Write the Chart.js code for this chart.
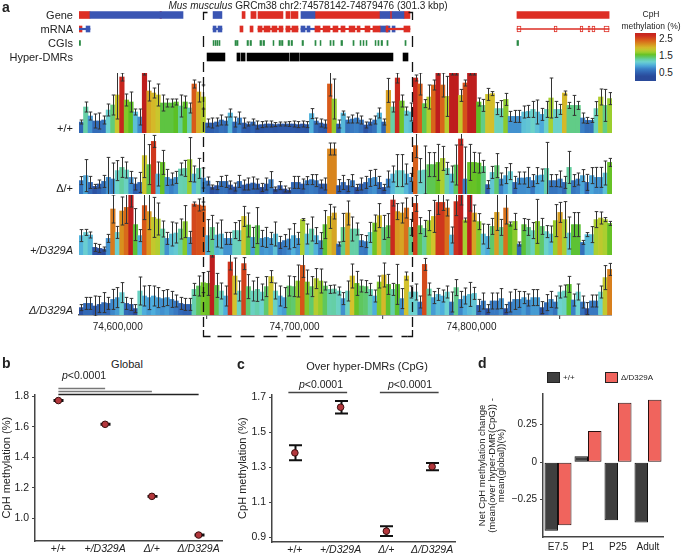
<!DOCTYPE html>
<html>
<head>
<meta charset="utf-8">
<script src="https://cdn.jsdelivr.net/npm/chart.js@4.4.1/dist/chart.umd.min.js"></script>
<style>
body { margin: 0; background: #fff; }
#fig { position: relative; width: 681px; height: 555px; overflow: hidden; font-family: "Liberation Sans", Arial, sans-serif; color: #222; }
#fig canvas { position: absolute; }
.t { position: absolute; white-space: nowrap; font-size: 11px; line-height: 12px; }
.lt { font-weight: bold; font-size: 14px; line-height: 14px; }
.sw { position: absolute; width: 11px; height: 9px; border: 1px solid #222; }
#bracket { position: absolute; left: 0; top: 0; z-index: 5; }
</style>
</head>
<body>
<div id="fig">
  <canvas id="genes" width="612" height="56" style="left:0;top:8px"></canvas>
  <canvas id="tr0" width="612" height="60" style="left:0;top:73px"></canvas>
  <canvas id="tr1" width="612" height="60" style="left:0;top:134px"></canvas>
  <canvas id="tr2" width="612" height="60" style="left:0;top:195px"></canvas>
  <canvas id="tr3" width="612" height="82" style="left:0;top:255px"></canvas>
  <canvas id="chartB" width="232" height="170" style="left:0;top:385px"></canvas>
  <canvas id="chartC" width="232" height="170" style="left:232px;top:385px"></canvas>
  <canvas id="chartD" width="217" height="170" style="left:464px;top:385px"></canvas>
  <svg id="bracket" width="681" height="555"></svg>

  <div class="t lt" style="left:2px;top:0px">a</div>
  <div class="t" style="left:308px;top:0px;font-size:10px;transform:translateX(-50%)"><i>Mus musculus</i> GRCm38 chr2:74578142-74879476 (301.3 kbp)</div>
  <div class="t" style="left:651px;top:8px;font-size:8.5px;transform:translateX(-50%)">CpH</div>
  <div class="t" style="left:651px;top:20px;font-size:8.5px;transform:translateX(-50%)">methylation (%)</div>
  <div id="cbar" style="position:absolute;left:635px;top:33px;width:21px;height:48px"></div>
  <div id="rowLabels"></div>

  <div class="t" style="right:608px;top:122px">+/+</div>
  <div class="t" style="right:608px;top:182px">Δ/+</div>
  <div class="t" style="right:608px;top:244px"><i>+/D329A</i></div>
  <div class="t" style="right:608px;top:304px"><i>Δ/D329A</i></div>

  <div class="t lt" style="left:2px;top:356px">b</div>
  <div class="t" style="left:127px;top:358px;transform:translateX(-50%)">Global</div>
  <div class="t" style="left:62px;top:369px;font-size:10.5px"><i>p</i>&lt;0.0001</div>

  <div class="t lt" style="left:237px;top:357px">c</div>
  <div class="t" style="left:367px;top:360px;transform:translateX(-50%)">Over hyper-DMRs (CpG)</div>
  <div class="t" style="left:321px;top:378px;font-size:10.5px;transform:translateX(-50%)"><i>p</i>&lt;0.0001</div>
  <div class="t" style="left:410px;top:378px;font-size:10.5px;transform:translateX(-50%)"><i>p</i>&lt;0.0001</div>

  <div class="t lt" style="left:478px;top:356px">d</div>
  <div class="sw" style="left:547px;top:372px;background:#3f3f3f"></div>
  <div class="t" style="left:563px;top:372px;font-size:8px">+/+</div>
  <div class="sw" style="left:605px;top:372px;background:#f0645d"></div>
  <div class="t" style="left:621px;top:372px;font-size:8px">Δ/D329A</div>
</div>
<script>
// region shown in panel a
const chrStart = 74578142;
const chrEnd = 74879476;
const axisTicksA = [74600000, 74700000, 74800000];
const dmrBracketKb = [70.1, 188.3];

// CpH methylation (%) per bin, four genotypes, and error half-widths
const methWT = [
  0.55,1.3,0.85,0.6,0.6,0.65,1.15,1.4,1.9,2.8,
  1.65,1.55,1.05,0.8,3.0,2.1,2.0,1.9,1.5,1.5,
  1.5,1.55,1.35,1.55,1.25,2.45,2.05,1.8,0.5,0.5,
  0.55,0.65,0.6,1.0,0.55,0.75,0.5,0.45,0.55,0.4,
  0.42,0.45,0.45,0.42,0.45,0.45,0.45,0.45,0.42,0.45,
  0.42,0.97,0.6,0.5,0.45,2.45,1.7,0.45,1.0,0.65,
  0.7,0.75,0.65,0.4,0.55,0.65,1.0,0.55,2.13,1.3,
  2.75,1.6,1.1,1.05,2.75,2.45,1.47,1.8,2.4,3.0,
  2.4,1.83,3.0,3.0,1.88,2.5,3.0,3.0,1.55,1.38,
  1.93,1.97,1.22,1.22,1.68,0.83,0.83,0.83,1.05,1.08,
  1.18,1.05,0.93,1.18,1.75,1.18,1.18,2.0,1.38,1.38,
  1.38,0.75,0.63,0.63,1.22,1.8,1.38,1.72
];
const errWT = [
  0.1,0.25,0.2,0.35,0.4,0.2,0.3,0.5,1.2,0.2,
  0.3,0.5,0.15,0.4,0.1,0.5,0.25,0.55,0.4,0.2,
  0.2,0.15,0.55,0.3,0.25,0.2,0.5,0.6,0.2,0.25,
  0.2,0.25,0.2,0.2,0.25,0.3,0.25,0.1,0.15,0.2,
  0.15,0.15,0.15,0.1,0.1,0.1,0.12,0.15,0.15,0.15,
  0.15,0.25,0.15,0.2,0.2,0.6,1.0,0.2,0.1,0.15,
  0.2,0.25,0.2,0.15,0.15,0.2,0.25,0.15,0.6,0.25,
  0.25,0.3,0.2,0.45,0.15,0.55,0.2,0.6,0.25,0.1,
  0.6,1.0,0.1,0.1,0.3,0.15,0.1,0.1,0.2,0.3,
  0.3,0.1,0.3,0.4,0.3,0.25,0.3,0.3,0.3,0.3,
  0.4,0.6,0.3,0.4,1.0,0.4,0.25,0.1,0.15,0.5,
  0.2,0.25,0.15,0.1,0.35,0.4,0.8,0.3
];
const methDel = [
  0.67,0.92,0.58,0.38,0.5,0.63,0.83,0.75,1.17,1.33,
  1.2,0.83,0.5,0.58,1.92,1.47,2.63,1.0,1.58,0.83,
  0.75,0.83,1.25,1.28,1.72,1.0,1.28,0.8,0.65,0.35,
  0.42,0.63,0.63,0.45,0.35,0.63,0.45,0.5,0.55,0.5,
  0.33,0.5,0.72,0.25,0.42,0.25,0.2,0.58,0.58,0.5,
  0.67,0.72,0.67,0.5,0.5,2.25,2.25,0.42,0.58,0.42,
  0.67,0.33,0.5,0.58,0.78,0.83,0.58,0.33,0.75,1.0,
  1.17,1.17,1.0,0.83,2.42,1.17,1.2,1.47,1.47,1.58,
  1.78,1.28,1.0,1.45,2.75,0.75,1.58,1.58,1.55,1.38,
  0.47,1.08,1.42,0.75,0.92,1.12,0.58,0.8,0.8,0.83,
  0.67,0.92,0.95,1.28,0.67,0.67,0.75,0.58,1.33,0.67,
  0.75,0.92,0.58,0.92,0.83,0.83,1.05,1.58
];
const errDel = [
  0.2,0.8,0.3,0.1,0.2,0.3,1.0,0.8,0.5,0.5,
  0.4,0.3,0.3,0.5,1.1,1.0,0.3,0.6,0.6,0.4,
  0.3,0.3,0.3,0.4,1.1,0.4,0.5,0.5,0.2,0.1,
  0.2,0.25,0.3,0.2,0.2,0.3,0.25,0.3,0.3,0.25,
  0.2,0.3,0.4,0.1,0.2,0.15,0.1,0.3,0.3,0.25,
  0.2,0.25,0.3,0.2,0.3,0.3,0.3,0.3,0.35,0.3,
  0.3,0.15,0.3,0.3,0.4,0.4,0.3,0.15,0.4,0.4,
  0.8,0.8,0.5,0.2,0.6,0.6,1.2,0.6,0.6,0.9,
  0.6,0.3,0.4,1.0,0.3,1.6,0.9,0.5,0.5,0.3,
  0.2,0.3,0.6,0.3,0.4,0.4,0.3,0.3,0.3,0.5,
  0.3,0.4,0.3,1.3,0.3,0.3,0.4,0.3,0.8,0.3,
  0.3,0.3,0.4,0.4,0.5,0.5,0.6,0.2
];
const methMut = [
  0.97,1.13,1.0,0.38,0.33,0.3,0.83,2.3,1.13,2.2,
  2.38,3.0,1.52,0.97,2.47,2.17,1.88,1.8,1.3,0.83,
  1.05,1.1,1.3,1.67,0.88,2.55,2.5,2.45,0.97,1.38,
  1.0,1.05,0.83,0.83,1.22,1.22,1.93,1.5,0.88,1.47,
  0.83,0.88,0.83,1.05,0.63,0.72,0.8,0.97,0.83,1.77,
  1.05,1.3,0.97,0.72,1.52,1.93,2.1,0.55,1.38,2.1,
  1.3,1.3,0.72,0.67,1.13,1.6,1.97,1.38,1.47,2.75,
  2.17,2.1,2.35,1.38,2.58,1.47,1.33,1.72,1.93,2.63,
  2.63,2.35,1.0,2.67,3.0,1.75,3.0,2.1,1.67,1.05,
  0.93,1.43,2.13,1.38,2.35,1.55,1.68,0.55,1.52,1.38,
  1.22,1.68,1.43,1.17,1.05,1.72,2.13,1.77,1.1,1.52,
  1.52,0.63,1.02,1.02,1.77,1.85,1.77,1.58
];
const errMut = [
  0.3,0.15,0.15,0.2,0.2,0.1,0.2,0.7,0.3,0.7,
  0.8,0.6,0.8,0.3,0.7,0.9,1.0,0.8,0.4,0.3,
  0.6,0.5,0.5,0.8,0.3,0.1,0.3,0.2,0.8,0.6,
  0.6,0.7,0.3,0.3,0.4,0.5,0.5,0.6,0.5,0.9,
  0.4,0.5,0.3,0.6,0.3,0.3,0.5,0.6,0.3,0.05,
  0.5,0.6,0.4,0.4,0.7,0.6,0.3,0.1,0.7,0.6,
  0.6,0.3,0.3,0.3,0.5,0.4,0.6,0.6,0.6,0.3,
  0.4,0.5,0.5,0.4,0.4,0.4,0.4,0.5,0.8,0.6,
  0.4,0.4,0.4,0.7,0.5,0.1,0.8,0.4,0.4,0.5,
  0.6,0.4,0.9,0.4,0.8,0.1,0.4,0.1,0.3,0.4,
  0.4,1.1,0.4,0.3,0.4,0.8,0.5,0.9,0.8,0.6,
  0.6,0.1,0.1,0.4,0.4,0.3,0.1,0.1
];
const methDelMut = [
  0.37,0.58,0.58,0.45,0.53,0.62,0.58,0.78,0.87,1.12,
  0.58,0.53,0.32,1.2,0.95,0.87,0.95,0.87,0.82,0.87,
  0.78,0.7,0.58,0.53,0.53,1.28,1.45,1.62,1.58,3.0,
  1.48,1.2,0.95,2.65,1.95,1.2,2.57,1.42,1.2,1.28,
  1.15,1.42,1.92,1.2,0.95,0.87,1.45,1.42,1.7,2.48,
  1.65,1.42,1.82,1.7,1.45,1.28,1.3,1.2,0.82,1.2,
  1.95,1.58,1.45,1.42,1.28,0.95,1.65,2.0,1.53,1.28,
  1.53,0.82,1.95,1.15,1.15,0.65,2.53,1.3,0.87,1.03,
  0.95,1.15,0.65,1.37,0.78,0.95,1.03,1.08,0.48,0.7,
  0.32,0.7,0.7,0.82,0.32,0.65,0.78,0.78,0.87,0.75,
  0.87,0.87,0.37,0.62,0.78,0.65,1.15,1.2,1.53,0.75,
  1.15,0.65,0.32,0.7,0.7,1.15,1.87,2.28
];
const errDelMut = [
  0.15,0.3,0.3,0.5,0.4,0.5,0.3,0.5,0.5,0.5,
  0.3,0.3,0.2,0.7,0.5,0.6,0.5,0.5,0.4,0.4,
  0.4,0.3,0.3,0.3,0.3,0.3,0.5,0.5,0.6,0.1,
  0.6,0.4,0.5,0.4,0.9,0.5,0.3,0.6,0.5,0.6,
  0.4,0.5,0.3,0.4,0.5,0.5,0.5,0.5,0.8,0.6,
  0.6,0.5,0.5,0.6,0.2,0.2,0.2,0.2,0.3,0.5,
  0.6,0.6,0.3,0.3,0.3,0.3,0.3,0.6,0.5,0.3,
  1.0,0.5,0.2,0.3,0.4,0.3,0.3,0.3,0.3,0.3,
  0.3,0.3,0.5,0.4,0.4,0.4,0.6,0.3,0.3,0.4,
  0.2,0.4,0.4,0.5,0.2,0.5,0.5,0.4,0.3,0.3,
  0.4,0.4,0.3,0.4,0.4,0.3,0.3,0.3,0.4,0.3,
  0.4,0.3,0.3,0.3,0.3,0.3,0.6,0.3
];

// annotation tracks, intervals in kb from chrStart
const trackRows = ['Gene', 'mRNA', 'CGIs', 'Hyper-DMRs'];
const geneBlueKb = [[6.2,58.8],[75.8,80.8],[125.5,133.4],[170.2,175.8],[177.0,183.7]];
const geneRedKb = [[0,6.2],[45.8,46.6],[92.2,93.9],[97.2,100.1],[101.2,115.3],[117.0,119.3],[119.9,123.8],
  [133.4,170.2],[175.8,177.0],[183.7,187.1],[247.6,299.7]];
const mrnaLineRedKb = [[101.2,115.3],[117.0,123.8],[133.4,170.2],[173.6,187.1]];
const mrnaLineBlueKb = [[0,6.2],[75.8,80.8],[125.5,133.4],[177.0,183.7]];
const mrnaExonRedKb = [[0,1.7],[91.0,92.7],[96.7,98.4],[101.2,103.5],[104.6,108.0],[109.1,111.9],[113.1,115.3],
  [117.0,119.3],[120.4,123.8],[133.4,136.3],[138.0,141.9],[143.6,146.4],[148.1,150.4],[152.7,156.0],
  [157.2,158.9],[161.7,164.5],[166.2,170.2],[173.6,174.7],[183.7,187.1]];
const mrnaExonBlueKb = [[4.0,6.2],[75.8,77.5],[78.6,80.8],[125.5,127.8],[128.9,130.6],[170.2,175.8],[177.0,178.7]];
const mrnaOpenLineKb = [[247.6,299.7]];
const mrnaOpenExonKb = [[247.6,249.9],[268.6,270.3],[283.3,284.9],[287.8,288.9],[290.0,291.7],[296.8,299.7]];
const cgiKb = [[0,0.85],[75.8,76.3],[76.9,77.5],[78.0,78.6],[79.2,79.7],[88.2,89.0],[89.3,89.9],[95.0,95.8],
  [96.7,97.5],[102.3,103.2],[104.0,104.9],[109.7,110.2],[113.1,113.9],[114.5,115.3],[118.2,119.0],
  [119.9,120.7],[126.1,126.9],[133.4,134.0],[136.3,136.8],[141.9,142.5],[143.6,144.2],[148.1,149.0],
  [154.9,155.5],[158.9,159.4],[160.6,161.1],[162.3,162.8],[167.4,167.9],[169.0,169.6],[170.8,171.6],
  [174.1,174.7],[184.3,184.9],[247.6,248.5]];
const hyperDmrKb = [[72.4,82.5],[89.3,91.0],[91.6,93.9],[95.0,118.7],[119.3,124.4],[124.9,177.5],[183.2,186.0]];

// colour bar labels
const cbarTicks = [2.5, 1.5, 0.5];

// panels b and c
const groups = ['+/+', '+/D329A', 'Δ/+', 'Δ/D329A'];
const globalMean = [1.772, 1.616, 1.143, 0.889];
const globalErr = [0.003, 0.003, 0.003, 0.003];
const globalTicks = [1, 1.2, 1.4, 1.6, 1.8];
const sigB = [[0, 1], [0, 2], [0, 3]];
const dmrMean = [1.382, 1.643, 0.934, 1.303];
const dmrErr = [0.043, 0.036, 0.028, 0.021];
const dmrTicks = [0.9, 1.1, 1.3, 1.5, 1.7];
const sigC = [[0, 1], [2, 3]];

// panel d
const stages = ['E7.5', 'P1', 'P25', 'Adult'];
const netWT = [-0.458, 0.039, -0.388, -0.403];
const netDelMut = [-0.421, 0.208, 0.397, 0.416];
const netTicks = [-0.25, 0, 0.25];

Chart.defaults.font.family = '"Liberation Sans", Arial, sans-serif';
Chart.defaults.color = '#222';
Chart.defaults.animation = false;
Chart.defaults.plugins.legend.display = false;
Chart.defaults.plugins.tooltip.enabled = false;

const cmap = [
  [0.3, [42, 74, 154]], [0.5, [46, 94, 174]], [0.75, [58, 128, 198]], [0.95, [78, 174, 220]],
  [1.15, [108, 210, 208]], [1.35, [98, 206, 152]], [1.55, [92, 192, 36]], [1.75, [166, 208, 48]],
  [1.95, [212, 194, 44]], [2.2, [216, 144, 30]], [2.45, [216, 90, 26]], [2.7, [204, 42, 30]], [3.0, [190, 30, 30]]
];
function methColor(v) {
  if (v <= cmap[0][0]) return 'rgb(' + cmap[0][1].join(',') + ')';
  for (let i = 1; i < cmap.length; i++) {
    if (v <= cmap[i][0]) {
      const a = cmap[i - 1], b = cmap[i];
      const t = (v - a[0]) / (b[0] - a[0]);
      const c = a[1].map((x, k) => Math.round(x + (b[1][k] - x) * t));
      return 'rgb(' + c.join(',') + ')';
    }
  }
  return 'rgb(' + cmap[cmap.length - 1][1].join(',') + ')';
}

const nBins = methWT.length;
const binSize = (chrEnd - chrStart) / nBins;
const kb = k => chrStart + k * 1000;

// error bars drawn through the y scale
function drawErrorBars(chart, opts) {
  const { ctx, chartArea } = chart;
  const ys = chart.scales.y;
  ctx.save();
  ctx.beginPath();
  ctx.rect(chartArea.left, chartArea.top - 1, chartArea.right - chartArea.left, chartArea.bottom - chartArea.top + 2);
  ctx.clip();
  ctx.strokeStyle = opts.color;
  ctx.lineWidth = opts.width;
  chart.data.datasets.forEach((ds, di) => {
    if (!ds.errors) return;
    chart.getDatasetMeta(di).data.forEach((el, i) => {
      const d = ds.data[i];
      const v = typeof d === 'object' ? d.y : d;
      const e = ds.errors[i];
      const x = Math.round(el.x) + 0.5;
      const y1 = ys.getPixelForValue(v + e), y2 = ys.getPixelForValue(v - e);
      ctx.beginPath();
      ctx.moveTo(x, y1); ctx.lineTo(x, y2);
      ctx.moveTo(x - opts.cap, y1); ctx.lineTo(x + opts.cap, y1);
      ctx.moveTo(x - opts.cap, y2); ctx.lineTo(x + opts.cap, y2);
      ctx.stroke();
    });
  });
  ctx.restore();
}
const errorBarPlugin = {
  id: 'errorBars',
  beforeDatasetsDraw(chart, args, opts) { if (opts.before) drawErrorBars(chart, opts); },
  afterDatasetsDraw(chart, args, opts) { if (!opts.before) drawErrorBars(chart, opts); }
};

// significance bars above the plot
const sigPlugin = {
  id: 'sig',
  afterDraw(chart, args, opts) {
    const { ctx, chartArea } = chart;
    const xs = chart.scales.x;
    ctx.save();
    ctx.lineWidth = 1.5;
    opts.pairs.forEach((p, i) => {
      const st = opts.styles[i];
      const y = Math.round(chartArea.top - st.dy) + 0.5;
      ctx.strokeStyle = st.color;
      ctx.beginPath();
      ctx.moveTo(xs.getPixelForValue(p[0]) - opts.ext, y);
      ctx.lineTo(xs.getPixelForValue(p[1]) + opts.ext, y);
      ctx.stroke();
    });
    ctx.restore();
  }
};

function trackChart(id, values, errs, withAxis) {
  const xScale = {
    type: 'linear', min: chrStart, max: chrEnd, offset: false, display: withAxis,
    grid: { display: true, drawOnChartArea: false, drawTicks: true, tickLength: 4, color: '#555', lineWidth: 1.2 },
    border: { display: true, color: '#555', width: 1.5 },
    ticks: { autoSkip: false, maxRotation: 0, padding: 2, font: { size: 10 }, callback: v => v.toLocaleString('en-US') },
    afterBuildTicks: s => { s.ticks = axisTicksA.map(v => ({ value: v })); }
  };
  if (withAxis) xScale.afterFit = s => { s.height = 22; };
  return new Chart(document.getElementById(id), {
    type: 'bar',
    data: {
      datasets: [{
        data: values.map((v, i) => ({ x: chrStart + (i + 0.5) * binSize, y: v })),
        errors: errs,
        backgroundColor: values.map(methColor),
        borderWidth: 0,
        barPercentage: 1,
        categoryPercentage: 1
      }]
    },
    options: {
      responsive: false,
      layout: { padding: { left: 79, right: 0, top: 0, bottom: 0 } },
      scales: { x: xScale, y: { min: 0, max: 3, display: false } },
      plugins: { errorBars: { before: false, color: '#333', width: 1, cap: 1.8 } }
    },
    plugins: [errorBarPlugin]
  });
}

const trackCharts = [
  trackChart('tr0', methWT, errWT, false),
  trackChart('tr1', methDel, errDel, false),
  trackChart('tr2', methMut, errMut, false),
  trackChart('tr3', methDelMut, errDelMut, true)
];

// annotation tracks as floating bars
function rowSet(row, list, color, thick, extra) {
  return Object.assign({
    data: list.map(iv => ({ y: row, x: [kb(iv[0]), kb(iv[1])] })),
    backgroundColor: color, borderWidth: 0, barThickness: thick, grouped: false
  }, extra || {});
}
const geneChart = new Chart(document.getElementById('genes'), {
  type: 'bar',
  data: {
    labels: trackRows,
    datasets: [
      rowSet('Gene', geneBlueKb, '#3a55b3', 7),
      rowSet('Gene', geneRedKb, '#dd2e24', 7),
      rowSet('mRNA', mrnaLineRedKb, '#dd2e24', 1.5),
      rowSet('mRNA', mrnaLineBlueKb, '#3a55b3', 1.5),
      rowSet('mRNA', mrnaExonRedKb, '#dd2e24', 6),
      rowSet('mRNA', mrnaExonBlueKb, '#3a55b3', 6),
      rowSet('mRNA', mrnaOpenLineKb, '#dd2e24', 1),
      rowSet('mRNA', mrnaOpenExonKb, '#ffffff', 6, { borderWidth: 1, borderColor: '#dd2e24', borderSkipped: false }),
      rowSet('CGIs', cgiKb, '#2b8a45', 5),
      rowSet('Hyper-DMRs', hyperDmrKb, '#000000', 8)
    ]
  },
  options: {
    responsive: false,
    indexAxis: 'y',
    layout: { padding: { left: 79, right: 0, top: 0, bottom: 0 } },
    scales: {
      x: { type: 'linear', min: chrStart, max: chrEnd, display: false },
      y: { type: 'category', offset: true, display: false }
    }
  }
});

// row names placed at the category centres of the annotation chart
(function () {
  const ys = geneChart.scales.y, host = document.getElementById('rowLabels');
  trackRows.forEach((name, i) => {
    const d = document.createElement('div');
    d.className = 't';
    d.style.cssText = 'right:608px;top:' + (8 + ys.getPixelForValue(i) - 6.5) + 'px';
    d.textContent = name;
    host.appendChild(d);
  });
})();

// colour bar
(function () {
  const vTop = 2.85, vBot = 0.03, el = document.getElementById('cbar');
  const stops = [];
  for (let k = 0; k <= 20; k++) {
    const v = vTop - (vTop - vBot) * k / 20;
    stops.push(methColor(v) + ' ' + (k * 5) + '%');
  }
  el.style.background = 'linear-gradient(to bottom,' + stops.join(',') + ')';
  cbarTicks.forEach(v => {
    const d = document.createElement('div');
    d.className = 't';
    d.style.cssText = 'left:659px;font-size:10px;top:' + (33 + (vTop - v) / (vTop - vBot) * 48 - 6) + 'px';
    d.textContent = v.toFixed(1);
    document.getElementById('fig').appendChild(d);
  });
})();

// dashed bracket around hyper-DMR block
(function () {
  const xs = trackCharts[0].scales.x;
  const x1 = Math.round(xs.getPixelForValue(kb(dmrBracketKb[0]))) + 0.5;
  const x2 = Math.round(xs.getPixelForValue(kb(dmrBracketKb[1]))) + 0.5;
  const s = 'stroke="#111" stroke-width="1.3" fill="none"';
  document.getElementById('bracket').innerHTML =
    `<path d="M${x1},20 V12.5 H${x1 + 4}" ${s}/>` +
    `<path d="M${x2 - 4},12.5 H${x2} V20" ${s}/>` +
    `<path d="M${x1},36 V47 M${x2},36 V47" ${s}/>` +
    `<path d="M${x1},62 V330 M${x2},62 V330" ${s} stroke-dasharray="10 5"/>` +
    `<path d="M${x1},330 V336.5 H${x1 + 7} M${x2 - 5},336.5 H${x2} V330" ${s}/>` +
    `<path d="M${x1 + 14},336.5 H${x2 - 5}" ${s} stroke-dasharray="14 9"/>`;
})();

function dotChart(id, means, errs, yMin, yMax, ticks, axisW, padRight, xH, titlePad, cap, sigPairs, sigStyles, sigExt) {
  return new Chart(document.getElementById(id), {
    type: 'line',
    data: {
      labels: groups,
      datasets: [{
        data: means, errors: errs, showLine: false,
        pointRadius: 3.3, pointBackgroundColor: '#b3373c', pointBorderColor: '#3a0e0e', pointBorderWidth: 1
      }]
    },
    options: {
      responsive: false,
      layout: { padding: { top: 8, right: padRight, left: 0, bottom: 0 } },
      scales: {
        x: {
          type: 'category', offset: true,
          grid: { display: false, drawTicks: false },
          border: { display: true, color: '#444', width: 1.5 },
          ticks: { autoSkip: false, maxRotation: 0, minRotation: 0, padding: 2,
                   font: c => ({ size: 10.5, style: c.index ? 'italic' : 'normal' }) },
          afterFit: s => { s.height = xH; }
        },
        y: {
          min: yMin, max: yMax,
          grid: { display: true, drawOnChartArea: false, drawTicks: true, tickLength: 3, color: '#444' },
          border: { display: true, color: '#444', width: 1.5 },
          ticks: { padding: 3, font: { size: 10.5 } },
          afterBuildTicks: s => { s.ticks = ticks.map(v => ({ value: v })); },
          title: { display: true, text: 'CpH methylation (%)', font: { size: 11 }, padding: { top: titlePad, bottom: 0 } },
          afterFit: s => { s.width = axisW; }
        }
      },
      plugins: {
        errorBars: { before: true, color: '#111', width: 2, cap: cap },
        sig: { pairs: sigPairs, styles: sigStyles, ext: sigExt }
      }
    },
    plugins: [errorBarPlugin, sigPlugin]
  });
}

dotChart('chartB', globalMean, globalErr, 0.85, 1.813, globalTicks, 35, 10, 14, 0, 5,
  sigB, [{ dy: 6, color: '#777' }, { dy: 3, color: '#777' }, { dy: 0, color: '#222' }], 0);
dotChart('chartC', dmrMean, dmrErr, 0.872, 1.717, dmrTicks, 40, 9, 13, 4, 6.5,
  sigC, [{ dy: 2, color: '#444' }, { dy: 2, color: '#444' }], 6.5);

new Chart(document.getElementById('chartD'), {
  type: 'bar',
  data: {
    labels: stages,
    datasets: [
      { label: '+/+', data: netWT, backgroundColor: '#3f3f3f', borderColor: '#111', borderWidth: 1, borderSkipped: false,
        categoryPercentage: 0.9, barPercentage: 1 },
      { label: 'Δ/D329A', data: netDelMut, backgroundColor: '#f0645d', borderColor: '#2a1010', borderWidth: 1, borderSkipped: false,
        categoryPercentage: 0.9, barPercentage: 1 }
    ]
  },
  options: {
    responsive: false,
    layout: { padding: { top: 7, right: 18, left: 0, bottom: 0 } },
    scales: {
      x: {
        grid: { display: false, drawTicks: false },
        border: { display: true, color: '#444', width: 1.5 },
        ticks: { autoSkip: false, maxRotation: 0, padding: 4, font: { size: 10 } },
        afterFit: s => { s.height = 18; }
      },
      y: {
        min: -0.5, max: 0.455,
        grid: { display: true, drawOnChartArea: false, drawTicks: true, tickLength: 3, color: '#444' },
        border: { display: true, color: '#444', width: 1.5 },
        ticks: { padding: 3, font: { size: 10 }, callback: v => v < 0 ? '\u2212' + Math.abs(v) : String(v) },
        afterBuildTicks: s => { s.ticks = netTicks.map(v => ({ value: v })); },
        title: {
          display: true,
          text: ['Net CpH methylation change', '(mean(over hyper-DMR(CpG)) -', 'mean(global))(%)'],
          font: { size: 9.5, lineHeight: 1.0 }, padding: { top: 14, bottom: 0 }
        },
        afterFit: s => { s.width = 79; }
      }
    }
  }
});
</script>
</body>
</html>
